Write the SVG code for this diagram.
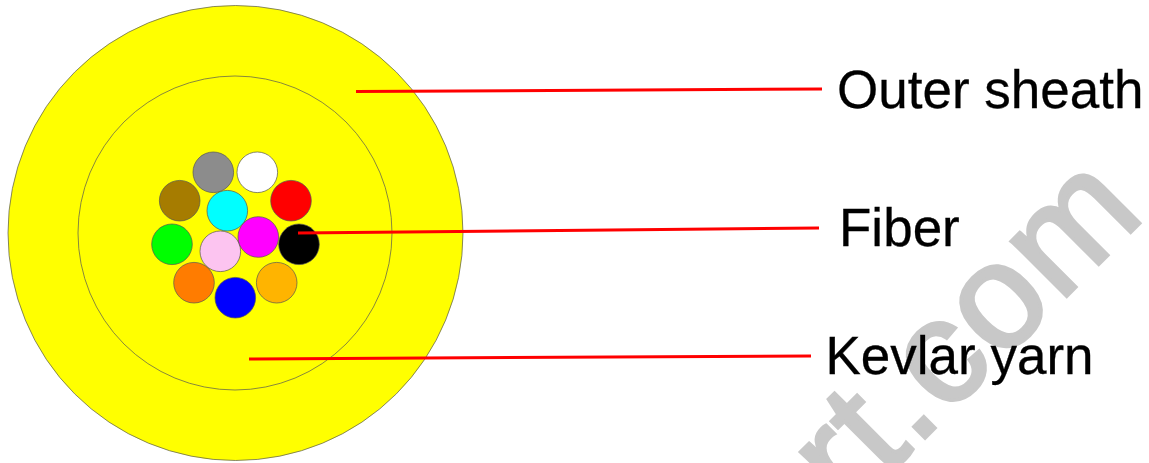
<svg xmlns="http://www.w3.org/2000/svg" width="1149" height="463" viewBox="0 0 1149 463">
<style>
.c{stroke:#555;stroke-width:.7}
.l{stroke:#f00;stroke-width:3;fill:none}
.t{font-family:"Liberation Sans",Arial,sans-serif;font-size:53px;fill:#000;stroke:#000;stroke-width:.3}
.w{font-family:"Liberation Sans",Arial,sans-serif;font-size:148px;letter-spacing:2px;fill:#c8c8c8;stroke:#c8c8c8;stroke-width:3.5}
</style>
<rect width="1149" height="463" fill="#fff"/>
<text class="w" text-anchor="end" transform="translate(1148,215) rotate(-45)">rt.com</text>
<g id="outer-sheath"><circle cx="235.5" cy="233" r="227.5" fill="#ff0" class="c"/></g>
<g id="kevlar-yarn"><circle cx="235" cy="233" r="157" fill="#ff0" class="c"/></g>
<g id="fibers">
<circle id="fiber-gray" cx="213.3" cy="172.3" r="20.3" fill="#8c8c8c" class="c"/>
<circle id="fiber-white" cx="257.3" cy="172.3" r="20.3" fill="#fff" class="c"/>
<circle id="fiber-red" cx="291" cy="200.7" r="20.3" fill="#f00" class="c"/>
<circle id="fiber-brown" cx="179.7" cy="200.7" r="20.3" fill="#a67c00" class="c"/>
<circle id="fiber-cyan" cx="227.3" cy="210.7" r="20.3" fill="#0ff" class="c"/>
<circle id="fiber-green" cx="172" cy="244.3" r="20.3" fill="#0f0" class="c"/>
<circle id="fiber-pink" cx="220.3" cy="251.3" r="20.3" fill="#fcc4f0" class="c"/>
<circle id="fiber-magenta" cx="258.3" cy="237" r="20.3" fill="#f0f" class="c"/>
<circle id="fiber-black" cx="299" cy="244.3" r="20.3" fill="#000" class="c"/>
<circle id="fiber-orange" cx="194" cy="282.7" r="20.3" fill="#ff7c00" class="c"/>
<circle id="fiber-amber" cx="276.7" cy="282.7" r="20.3" fill="#ffb400" class="c"/>
<circle id="fiber-blue" cx="235.3" cy="297.7" r="20.3" fill="#00f" class="c"/>
</g>
<g id="connectors">
<line class="l" x1="356" y1="91.5" x2="822" y2="89"/>
<line class="l" x1="298" y1="233" x2="819" y2="228"/>
<line class="l" x1="249" y1="359" x2="811" y2="356"/>
</g>
<g id="labels">
<text class="t" x="837" y="108">Outer sheath</text>
<text class="t" x="839" y="246">Fiber</text>
<text class="t" x="825.5" y="374">Kevlar yarn</text>
</g>
</svg>
